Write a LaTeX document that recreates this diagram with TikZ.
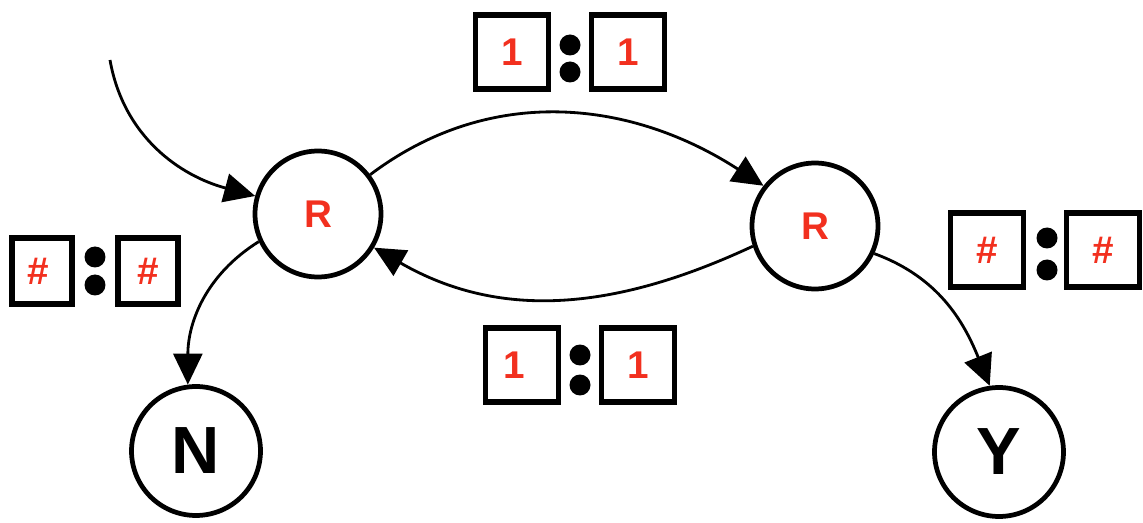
\documentclass[tikz,border=0pt]{standalone}
\usepackage{fontspec}
\setmainfont{Liberation Sans}
\usetikzlibrary{arrows.meta}
\definecolor{labelred}{HTML}{F2301F}
\tikzset{
  state/.style={circle, draw, line width=2.7pt, minimum size=2.52cm, inner sep=0pt},
  rstate/.style={state, text=labelred, font=\fontsize{22}{24}\selectfont\bfseries},
  final/.style={state, minimum size=2.58cm, font=\fontsize{38}{40}\selectfont\bfseries},
  symbox/.style={draw, line width=3pt, minimum width=1.46cm, minimum height=1.48cm, inner sep=0pt,
    text=labelred, font=\fontsize{22}{24}\selectfont\bfseries},
  smallbox/.style={symbox, minimum width=1.2cm, minimum height=1.32cm},
  sep/.style={circle, fill, minimum size=0.42cm, inner sep=0pt},
  conn/.style={line width=1.6pt, -{Triangle[length=0.62cm, width=0.58cm]}},
}
\begin{document}
\begin{tikzpicture}[x=0.02cm, y=-0.02cm]
\useasboundingbox (0,0) rectangle (1143,523);

% states
\node[rstate] (R1) at (318,214) {R};
\node[rstate] (R2) at (815,226) {R};
\node[final]  (N)  at (196,451) {N};
\node[final]  (Y)  at (999,452) {Y};

% entry
\coordinate (start) at (110,60);
\draw[conn] (start) to[out=-80, in=165] (R1.164);

% transitions between the two R states
\draw[conn] (R1.37) to[out=37, in=147] (R2.142);
\draw[conn] (R2.198) to[out=205, in=-30] (R1.-31);

% exits
\draw[conn] (R1.205) to[out=212, in=90] (N.97);
\draw[conn] (R2.-25) to[out=-20, in=112] (Y.98);

% top symbol pair 1:1
\node[symbox] (t1) at (512,52) {1};
\node[symbox] (t2) at (628,52) {1};
\node[sep] (td1) at (570,45) {};
\node[sep] (td2) at (570,72) {};

% bottom symbol pair 1:1
\node[symbox] (b1) at (522,365) {\hspace*{-0.3cm}1};
\node[symbox] (b2) at (638,365) {1};
\node[sep] (bd1) at (580,355) {};
\node[sep] (bd2) at (580,385) {};

% left symbol pair #:#
\node[smallbox] (l1) at (42,271) {\hspace*{-0.14cm}\#};
\node[smallbox] (l2) at (148,271) {\#};
\node[sep] (ld1) at (95,257) {};
\node[sep] (ld2) at (95,285) {};

% right symbol pair #:#
\node[symbox] (r1) at (987,250) {\#};
\node[symbox] (r2) at (1103,250) {\#};
\node[sep] (rd1) at (1047,238) {};
\node[sep] (rd2) at (1047,270) {};
\end{tikzpicture}
\end{document}
